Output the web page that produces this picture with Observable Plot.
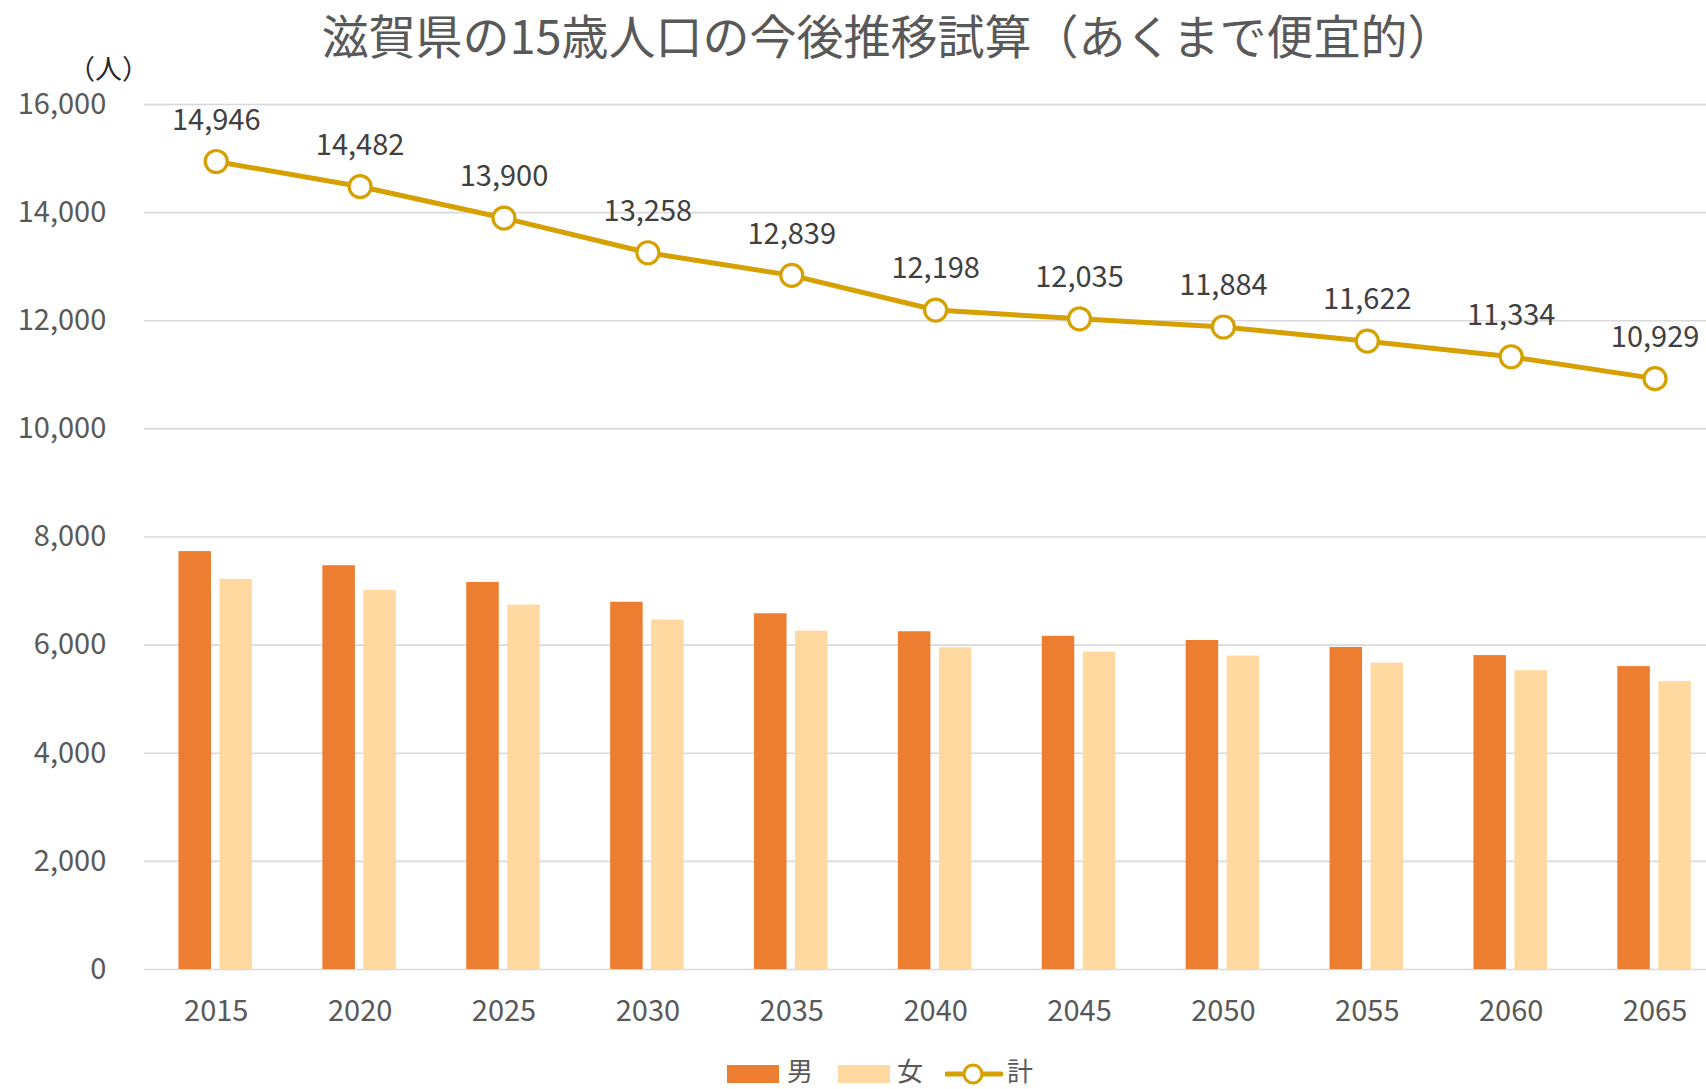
<!DOCTYPE html>
<html><head><meta charset="utf-8">
<script src="https://cdn.jsdelivr.net/npm/d3@7"></script>
<script src="https://cdn.jsdelivr.net/npm/@observablehq/plot@0.6"></script>
<style>
html,body{margin:0;padding:0;background:#fff;overflow:hidden;}
#wrap{position:relative;width:1706px;height:1089px;font-family:"Noto Sans CJK JP","Noto Sans",sans-serif;}
#title{position:absolute;left:0;top:0;width:1706px;height:68px;line-height:68px;text-align:center;font-size:47px;color:#595959;transform:translateX(35px);}
#unit{position:absolute;left:68px;top:51px;font-size:27px;color:#262626;line-height:34px;}
#chart{position:absolute;left:0;top:72px;}
#legend{position:absolute;left:0;top:1055px;width:1706px;height:30px;}
.li{position:absolute;top:0;height:30px;line-height:30px;font-size:26px;color:#595959;white-space:nowrap;}
</style></head>
<body><div id="wrap">
<div id="title"></div>
<div id="unit"></div>
<div id="chart"></div>
<div id="legend"></div>
</div>
<script>
const titleText = "滋賀県の15歳人口の今後推移試算（あくまで便宜的）";
const unitText = "（人）";
const years = ["2015","2020","2025","2030","2035","2040","2045","2050","2055","2060","2065"];
const male =   [7730, 7469, 7159, 6793, 6580, 6247, 6162, 6086, 5956, 5806, 5603];
const female = [7216, 7013, 6741, 6465, 6259, 5951, 5873, 5798, 5666, 5528, 5326];
const total =  [14946, 14482, 13900, 13258, 12839, 12198, 12035, 11884, 11622, 11334, 10929];
const yTicks = [0, 2000, 4000, 6000, 8000, 10000, 12000, 14000, 16000];
const seriesNames = ["男", "女", "計"];
const colors = {male: "#ED7D31", female: "#FFD9A0", total: "#D5A000"};

document.getElementById("title").textContent = titleText;
document.getElementById("unit").textContent = unitText;

const maleRows = years.map((y, i) => ({year: y, value: male[i]}));
const femaleRows = years.map((y, i) => ({year: y, value: female[i]}));
const totalRows = years.map((y, i) => ({year: y, value: total[i]}));
const fmt = d3.format(",");

const barW = 32.5;
const bandW = 143.88;
const inset = (bandW - barW) / 2;

const chart = Plot.plot({
  width: 1706,
  height: 957,
  marginLeft: 143.8,
  marginRight: -20.5,
  marginTop: 32,
  marginBottom: 60,
  style: {fontFamily: '"Noto Sans CJK JP","Noto Sans",sans-serif', fontSize: "29px", color: "#595959", background: "transparent"},
  x: {domain: years, padding: 0, round: false, label: null},
  y: {domain: [0, 16000], label: null},
  marks: [
    Plot.gridY(yTicks, {stroke: "#D9D9D9", strokeOpacity: 1, strokeWidth: 1.6}),
    Plot.barY(maleRows, {x: "year", y: "value", fill: colors.male, insetLeft: inset, insetRight: inset, dx: -21}),
    Plot.barY(femaleRows, {x: "year", y: "value", fill: colors.female, insetLeft: inset, insetRight: inset, dx: 20}),
    Plot.lineY(totalRows, {x: "year", y: "value", stroke: colors.total, strokeWidth: 5}),
    Plot.dot(totalRows, {x: "year", y: "value", r: 11, fill: "white", stroke: colors.total, strokeWidth: 3.2}),
    Plot.text(totalRows, {x: "year", y: "value", text: d => fmt(d.value), dy: -41, fontSize: 29, fill: "#404040"}),
    Plot.axisY(yTicks, {tickSize: 0, tickPadding: 38, tickFormat: fmt, fontSize: 29, fill: "#595959", label: null}),
    Plot.axisX({tickSize: 0, tickPadding: 31, fontSize: 29, fill: "#595959", label: null})
  ]
});
document.getElementById("chart").appendChild(chart);

// legend
const lg = document.getElementById("legend");
function addItem(left, html) {
  const d = document.createElement("div");
  d.className = "li";
  d.style.left = left + "px";
  d.innerHTML = html;
  lg.appendChild(d);
}
addItem(727, `<svg width="52" height="30" style="vertical-align:top"><rect x="0" y="10" width="52" height="18" fill="${colors.male}"/></svg><span style="margin-left:8px">${seriesNames[0]}</span>`);
addItem(838, `<svg width="52" height="30" style="vertical-align:top"><rect x="0" y="10" width="52" height="18" fill="${colors.female}"/></svg><span style="margin-left:7px">${seriesNames[1]}</span>`);
addItem(945, `<svg width="58" height="34" style="vertical-align:top"><line x1="2" y1="19" x2="56" y2="19" stroke="${colors.total}" stroke-width="5" stroke-linecap="round"/><circle cx="28" cy="19" r="9" fill="white" stroke="${colors.total}" stroke-width="3"/></svg><span style="margin-left:4px">${seriesNames[2]}</span>`);
</script>
</body></html>
